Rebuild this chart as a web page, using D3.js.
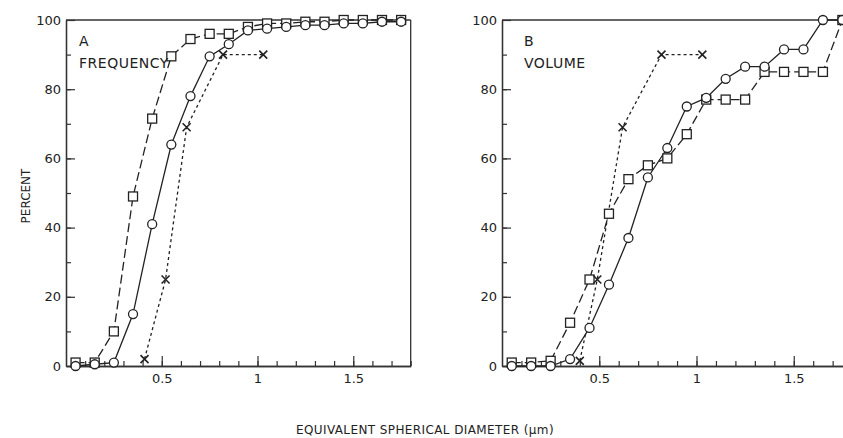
<!DOCTYPE html>
<html>
<head>
<meta charset="utf-8">
<script src="https://cdn.jsdelivr.net/npm/d3@7"></script>
<style>
  body { margin: 0; background: #fff; }
  text { font-family: "DejaVu Sans", sans-serif; fill: #222; }
</style>
</head>
<body>
<script>
// sample diameters (um) shared by the square and circle series
var diam = [0.05, 0.15, 0.25, 0.35, 0.45, 0.55, 0.65, 0.75, 0.85, 0.95,
            1.05, 1.15, 1.25, 1.35, 1.45, 1.55, 1.65, 1.75];

// panel A - frequency
var freqSquares = [1, 1, 10, 49, 71.5, 89.5, 94.5, 96, 96, 98, 99, 99, 99.5, 99.5, 100, 100, 100, 100];
var freqCircles = [0, 0.5, 1, 15, 41, 64, 78, 89.5, 93, 97, 97.5, 98, 98.5, 98.5, 99, 99, 99.5, 99.5];
var freqCrossX = [0.41, 0.52, 0.63, 0.82, 1.03];
var freqCrossY = [2, 25, 69, 90, 90];

// panel B - volume
var volSquares = [1, 1, 1.5, 12.5, 25, 44, 54, 58, 60, 67, 77, 77, 77, 85, 85, 85, 85, 100];
var volCircles = [0, 0, 0, 2, 11, 23.5, 37, 54.5, 63, 75, 77.5, 83, 86.5, 86.5, 91.5, 91.5, 100, 100];
var volCrossX = [0.40, 0.49, 0.62, 0.82, 1.03];
var volCrossY = [1.5, 25, 69, 90, 90];

var xMajor = [0.5, 1, 1.5];
var xMinor = d3.range(1, 19).map(function(i) { return i / 10; });
var yLabels = [0, 20, 40, 60, 80, 100];
var yMinor = d3.range(10, 100, 10);

var svg = d3.select("body").append("svg")
  .attr("width", 843)
  .attr("height", 438);

svg.append("rect").attr("width", 843).attr("height", 438).attr("fill", "#fff");

var plotTop = 20, plotBottom = 366;

function pairs(xs, ys) {
  return xs.map(function(x, i) { return [x, ys[i]]; });
}

function drawPanel(left, pxPerUnit, letter, title, textX, squares, circles, crossX, crossY, labelPad) {
  var x = d3.scaleLinear().domain([0, 1.8]).range([left, left + 1.8 * pxPerUnit]);
  var y = d3.scaleLinear().domain([0, 100]).range([plotBottom, plotTop]);
  var g = svg.append("g");

  // frame lines: top and right
  g.append("line")
    .attr("x1", x(0)).attr("x2", x(1.8))
    .attr("y1", y(100)).attr("y2", y(100))
    .attr("stroke", "#333").attr("stroke-width", 1.3);
  g.append("line")
    .attr("x1", x(1.8)).attr("x2", x(1.8))
    .attr("y1", y(100)).attr("y2", y(0))
    .attr("stroke", "#333").attr("stroke-width", 1.3);

  // x axis, ticks pointing inward
  var xMin = g.append("g").attr("transform", "translate(0," + plotBottom + ")")
    .call(d3.axisBottom(x).tickValues(xMinor).tickSizeInner(-5).tickSizeOuter(0).tickFormat(""));
  var xMaj = g.append("g").attr("transform", "translate(0," + plotBottom + ")")
    .call(d3.axisBottom(x).tickValues(xMajor).tickSizeInner(-10).tickSizeOuter(0).tickPadding(8)
      .tickFormat(function(d) { return d === 1 ? "1" : d3.format(".1f")(d); }));

  // y axis, ticks pointing inward
  var yMin = g.append("g").attr("transform", "translate(" + left + ",0)")
    .call(d3.axisLeft(y).tickValues(yMinor).tickSizeInner(-5).tickSizeOuter(0).tickFormat(""));
  var yMaj = g.append("g").attr("transform", "translate(" + left + ",0)")
    .call(d3.axisLeft(y).tickValues(yLabels).tickSizeInner(-9).tickSizeOuter(0).tickPadding(labelPad));

  [xMin, xMaj, yMin, yMaj].forEach(function(a) {
    a.select(".domain").attr("stroke", "#333").attr("stroke-width", 1.3);
    a.selectAll(".tick line").attr("stroke", "#333").attr("stroke-width", 1.2);
    a.selectAll("text").attr("font-size", 13).attr("fill", "#222")
      .style("font-family", "'DejaVu Sans', sans-serif");
  });

  var line = d3.line().x(function(d) { return x(d[0]); }).y(function(d) { return y(d[1]); });

  var sq = pairs(diam, squares), ci = pairs(diam, circles), cr = pairs(crossX, crossY);

  // squares - long dashed line
  g.append("path").datum(sq).attr("d", line)
    .attr("fill", "none").attr("stroke", "#222").attr("stroke-width", 1.3)
    .attr("stroke-dasharray", "9,4");
  // circles - solid line
  g.append("path").datum(ci).attr("d", line)
    .attr("fill", "none").attr("stroke", "#222").attr("stroke-width", 1.3);
  // crosses - short dashes
  g.append("path").datum(cr).attr("d", line)
    .attr("fill", "none").attr("stroke", "#222").attr("stroke-width", 1.3)
    .attr("stroke-dasharray", "3,3");

  g.selectAll("rect.sq").data(sq).enter().append("rect")
    .attr("class", "sq")
    .attr("x", function(d) { return x(d[0]) - 4.5; })
    .attr("y", function(d) { return y(d[1]) - 4.5; })
    .attr("width", 9).attr("height", 9)
    .attr("fill", "#fff").attr("stroke", "#222").attr("stroke-width", 1.3);

  g.selectAll("circle.ci").data(ci).enter().append("circle")
    .attr("class", "ci")
    .attr("cx", function(d) { return x(d[0]); })
    .attr("cy", function(d) { return y(d[1]); })
    .attr("r", 4.5)
    .attr("fill", "#fff").attr("stroke", "#222").attr("stroke-width", 1.3);

  g.selectAll("path.cr").data(cr).enter().append("path")
    .attr("class", "cr")
    .attr("d", function(d) {
      var cx = x(d[0]), cy = y(d[1]), s = 4;
      return "M" + (cx - s) + "," + (cy - s) + "L" + (cx + s) + "," + (cy + s) +
             "M" + (cx - s) + "," + (cy + s) + "L" + (cx + s) + "," + (cy - s);
    })
    .attr("stroke", "#222").attr("stroke-width", 1.6);

  // panel labels
  g.append("text").attr("x", textX).attr("y", 46)
    .attr("font-size", 14).text(letter);
  g.append("text").attr("x", textX).attr("y", 68)
    .attr("font-size", 14).attr("letter-spacing", 0.5).text(title);
}

drawPanel(66, 191.5, "A", "FREQUENCY", 79, freqSquares, freqCircles, freqCrossX, freqCrossY, 5);
drawPanel(502, 194.5, "B", "VOLUME", 524, volSquares, volCircles, volCrossX, volCrossY, 5);

// axis titles
svg.append("text")
  .attr("transform", "translate(30,196) rotate(-90)")
  .attr("text-anchor", "middle")
  .attr("font-size", 12)
  .text("PERCENT");

svg.append("text")
  .attr("x", 425).attr("y", 434)
  .attr("text-anchor", "middle")
  .attr("font-size", 12).attr("letter-spacing", 0.4)
  .text("EQUIVALENT SPHERICAL DIAMETER (\u03bcm)");
</script>
</body>
</html>
